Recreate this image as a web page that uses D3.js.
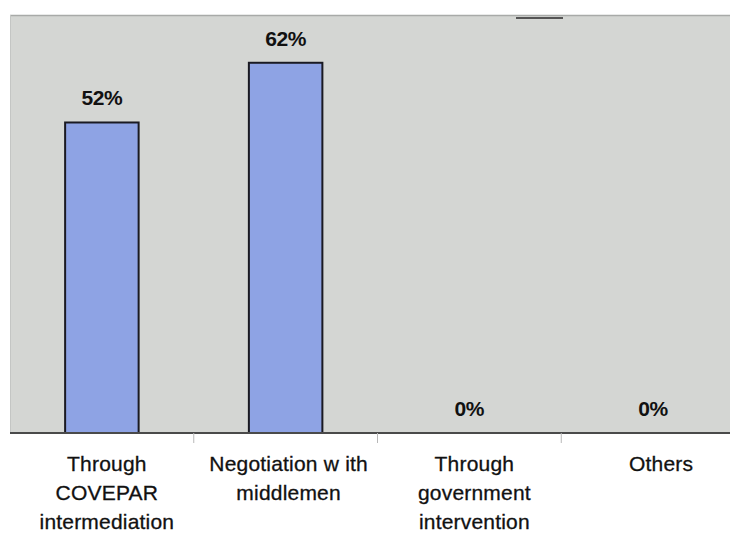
<!DOCTYPE html>
<html>
<head>
<meta charset="utf-8">
<script src="https://cdn.jsdelivr.net/npm/d3@7"></script>
<style>
  html, body { margin: 0; padding: 0; background: #fff; }
  svg { display: block; }
  text { font-family: "Liberation Sans", Arial, Helvetica, sans-serif; fill: #111; }
</style>
</head>
<body>
<svg id="chart" width="730" height="533"></svg>
<script>
// Categories (multi-line labels) and their shares in percent
const categories = [
  "Through COVEPAR intermediation",
  "Negotiation with middlemen",
  "Through government intervention",
  "Others"
];
const categoryLines = [
  ["Through", "COVEPAR", "intermediation"],
  ["Negotiation w ith", "middlemen"],
  ["Through", "government", "intervention"],
  ["Others"]
];
const values = [52, 62, 0, 0];
const valueLabels = ["52%", "62%", "0%", "0%"];

const svg = d3.select("#chart");
const margin = { left: 10, top: 15, right: -15, bottom: 100 };
const W = 730, H = 533;

const x = d3.scaleBand()
  .domain(categories)
  .range([margin.left, W - margin.right])
  .paddingInner(0.6)
  .paddingOuter(0.3);

const y = d3.scaleLinear()
  .domain([0, 70])
  .range([H - margin.bottom, margin.top]);

// Plot area background
svg.append("rect")
  .attr("x", margin.left)
  .attr("y", margin.top)
  .attr("width", W - margin.left - margin.right)
  .attr("height", y(0) - margin.top)
  .attr("fill", "#d4d6d3");

// Top border of the plot area
svg.append("line")
  .attr("x1", margin.left).attr("x2", W)
  .attr("y1", margin.top + 0.5).attr("y2", margin.top + 0.5)
  .attr("stroke", "#a8aaa8").attr("stroke-width", 1.5);

// Left border
svg.append("line")
  .attr("x1", margin.left + 0.5).attr("x2", margin.left + 0.5)
  .attr("y1", margin.top).attr("y2", y(0))
  .attr("stroke", "#c4c6c4").attr("stroke-width", 1);

// Small dark mark along the top edge
svg.append("rect")
  .attr("x", 516).attr("y", 17).attr("width", 47).attr("height", 2)
  .attr("fill", "#555");

// Bars
svg.append("g")
  .selectAll("rect")
  .data(values)
  .join("rect")
  .attr("x", (d, i) => x(categories[i]))
  .attr("y", d => y(d))
  .attr("width", x.bandwidth())
  .attr("height", d => y(0) - y(d))
  .attr("fill", "#8ea3e4")
  .attr("stroke", "#1a1a22")
  .attr("stroke-width", 2);

// X axis with ticks between categories
const step = x.step();
const boundaries = d3.range(1, categories.length).map(i => x(categories[i]) - step * x.paddingInner() / 2);
const axis = svg.append("g");
axis.append("line")
  .attr("x1", margin.left).attr("x2", W)
  .attr("y1", y(0)).attr("y2", y(0))
  .attr("stroke", "#4a4a4a").attr("stroke-width", 2);
axis.selectAll("line.tick")
  .data(boundaries)
  .join("line")
  .attr("class", "tick")
  .attr("x1", d => d).attr("x2", d => d)
  .attr("y1", y(0)).attr("y2", y(0) + 10)
  .attr("stroke", "#b8b8b8").attr("stroke-width", 1);

// Value labels
svg.append("g")
  .selectAll("text")
  .data(values)
  .join("text")
  .attr("x", (d, i) => x(categories[i]) + x.bandwidth() / 2)
  .attr("y", d => y(d) - 17)
  .attr("text-anchor", "middle")
  .attr("font-size", 21)
  .attr("font-weight", "bold")
  .attr("letter-spacing", -0.4)
  .text((d, i) => valueLabels[i]);

// Category labels
const catG = svg.append("g");
const labelShift = [5, 3, 5, 8];
categoryLines.forEach((lines, i) => {
  const cx = x(categories[i]) + x.bandwidth() / 2 + labelShift[i];
  const t = catG.append("text")
    .attr("text-anchor", "middle")
    .attr("font-size", 21)
    .attr("stroke", "#111")
    .attr("stroke-width", 0.3)
    .attr("letter-spacing", 0.2);
  lines.forEach((ln, j) => {
    t.append("tspan")
      .attr("x", cx)
      .attr("y", 471 + j * 29)
      .text(ln);
  });
});
</script>
</body>
</html>
